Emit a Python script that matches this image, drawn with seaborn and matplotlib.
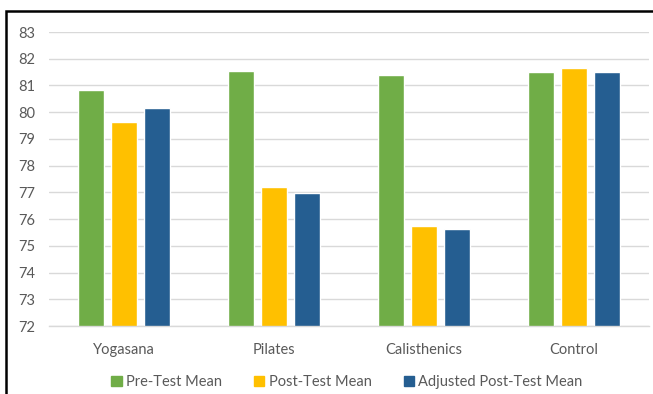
import matplotlib
matplotlib.use("Agg")
import matplotlib.pyplot as plt
import seaborn as sns
import pandas as pd
from matplotlib.patches import Rectangle

categories = ["Yogasana", "Pilates", "Calisthenics", "Control"]
series_names = ["Pre-Test Mean", "Post-Test Mean", "Adjusted Post-Test Mean"]
pre_test = [80.83, 81.55, 81.40, 81.52]
post_test = [79.64, 77.21, 75.75, 81.66]
adjusted_post = [80.17, 76.99, 75.64, 81.52]
y_ticks = list(range(72, 84))

colors = ["#70AD47", "#FFC000", "#255E91"]

rows = []
for name, vals in zip(series_names, [pre_test, post_test, adjusted_post]):
    for c, v in zip(categories, vals):
        rows.append({"Group": c, "Series": name, "Value": v})
df = pd.DataFrame(rows)

sns.set_theme(style="white")
plt.rcParams['font.family'] = ['Lato', 'DejaVu Sans']

fig = plt.figure(figsize=(6.53, 3.94), dpi=100)
W, H = 653, 394
ax = fig.add_axes([49 / W, 1 - 326 / H, (649 - 49) / W, (326 - 32) / H])

sns.barplot(data=df, x="Group", y="Value", hue="Series", palette=colors,
            order=categories, hue_order=series_names, width=0.66, gap=0.24,
            saturation=1, ax=ax, legend=False)

ax.set_ylim(72, 83)
ax.set_xlim(-0.5, 3.5)
ax.set_yticks(y_ticks)
ax.set_yticklabels([str(t) for t in y_ticks])
ax.yaxis.grid(True, color="#D9D9D9", linewidth=1)
ax.set_axisbelow(True)
for s in ["top", "right", "left"]:
    ax.spines[s].set_visible(False)
ax.spines["bottom"].set_color("#D9D9D9")
ax.spines["bottom"].set_linewidth(1)
ax.tick_params(axis="both", length=0, labelsize=10.5, labelcolor="#595959")
ax.tick_params(axis="y", pad=10)
ax.tick_params(axis="x", pad=12)
ax.set_xlabel("")
ax.set_ylabel("")

handles = [Rectangle((0, 0), 1, 1, color=c) for c in colors]
fig.legend(handles, series_names, loc="center", bbox_to_anchor=(347 / W, 1 - 382 / H),
           ncol=3, frameon=False, fontsize=10.5, labelcolor="#595959",
           handlelength=0.7, handleheight=0.7, handletextpad=0.3, columnspacing=2.2)

# outer frame
fig.add_artist(Rectangle((6 / W, -0.05), 1.0, 1 - 11 / H + 0.05, transform=fig.transFigure,
                         fill=False, edgecolor="black", linewidth=1.8))

fig.savefig("out.png", dpi=100)
